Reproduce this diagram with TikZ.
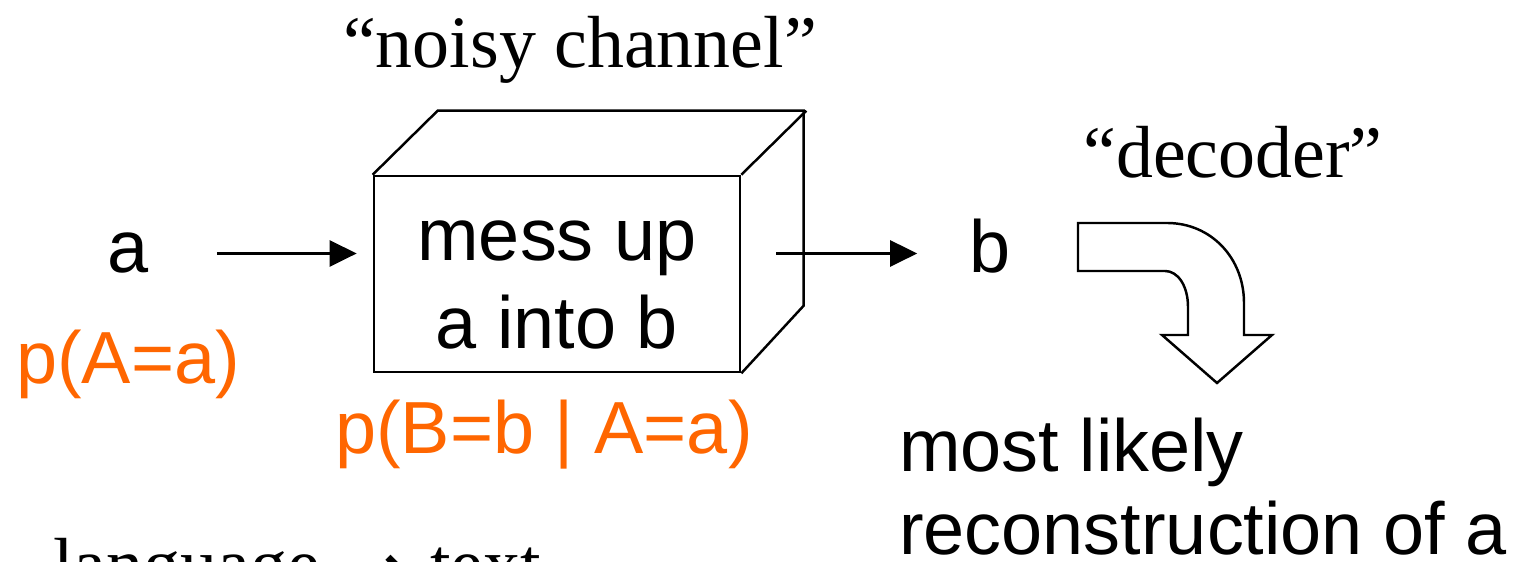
\documentclass[tikz,border=0pt]{standalone}
\usepackage{fontspec}
\setmainfont{Liberation Serif}
\setsansfont{Liberation Sans}
\newfontfamily\arrowfont{DejaVu Sans}
\usepackage{xcolor}
\usepackage{tikz}
\usetikzlibrary{arrows.meta,positioning}
\definecolor{probcol}{RGB}{255,102,0}

\begin{document}
\begin{tikzpicture}[x=0.01cm, y=-0.01cm, >={Triangle[length=2.7mm, width=2.6mm]}, line width=0.7pt]
  % Define styles
  \tikzstyle{serifword}=[inner sep=0pt, font=\rmfamily\fontsize{21}{25}\selectfont]
  \tikzstyle{sansword}=[inner sep=0pt, font=\sffamily\fontsize{21}{25}\selectfont]
  \tikzstyle{prob}=[sansword, text=probcol]
  \tikzstyle{channel}=[rectangle, draw, minimum width=3.66cm, minimum height=1.96cm, inner sep=0pt]

  \useasboundingbox (0,0) rectangle (1524,562);

  % Nodes
  \node[sansword, anchor=base]  (a)       at (128,273)  {a};
  \node[channel]                (chan)    at (557,274)  {};
  \node[sansword, align=center] (mess)    at (557,285)  {mess up\\a into b};
  \node[sansword, anchor=base]  (b)       at (990,273)  {b};
  \node[serifword, anchor=base] (noisy)   at (580,68)   {“noisy channel”};
  \node[serifword, anchor=base] (decoder) at (1233,178) {“decoder”};
  \node[prob, below=1.1cm of a.base, anchor=base] (pa) {p(A=a)};
  \node[prob, anchor=base]      (pba)     at (544,454)  {p(B=b | A=a)};
  \node[sansword, align=left, anchor=north west, font=\sffamily\fontsize{21}{23.6}\selectfont] (recon) at (898,417) {most likely\\reconstruction of a};
  \node[serifword, anchor=base west] (lang) at (52,590) {language \raisebox{-0.12cm}{\arrowfont\fontsize{25}{25}\selectfont →} text};

  % Box in depth
  \draw (chan.north west) -- ++(65,-64) -- ++(366,0) -- ++(0,195) -- (chan.south east);
  \draw (chan.north east) -- ++(65,-64);

  % Edges
  \draw[->, shorten <=0.67cm, shorten >=0.16cm] (a) -- (a -| chan.west);
  \draw[->, shorten <=0.35cm, shorten >=0.51cm] (chan.east |- a) -- (b.west |- a);

  % Bent block arrow
  \draw (1078,223) -- (1167,223) .. controls (1211,223) and (1244,258) .. (1244,303)
    -- (1244,335) -- (1272,335) -- (1217,383) -- (1162,335) -- (1188,335) -- (1188,307)
    .. controls (1188,286) and (1178,271) .. (1165,271) -- (1078,271) -- cycle;
\end{tikzpicture}
\end{document}
